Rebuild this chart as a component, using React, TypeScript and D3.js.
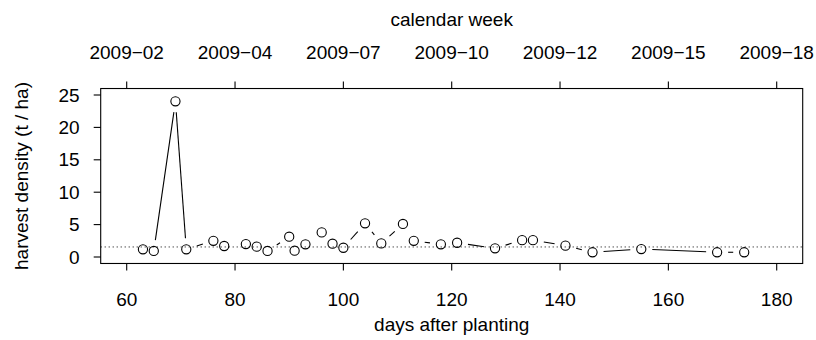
import React from "react";
import * as d3 from "d3";

const days = [63, 65, 69, 71, 76, 78, 82, 84, 86, 90, 91, 93, 96, 98, 100, 104, 107, 111, 113, 118, 121, 128, 133, 135, 141, 146, 155, 169, 174];
const density = [1.19, 0.93, 24.03, 1.19, 2.5, 1.7, 2.0, 1.6, 0.93, 3.13, 0.97, 1.96, 3.8, 2.05, 1.43, 5.2, 2.1, 5.1, 2.5, 1.96, 2.2, 1.34, 2.6, 2.6, 1.75, 0.73, 1.23, 0.73, 0.73];
const refLevel = 1.55;
const xTicks = [60, 80, 100, 120, 140, 160, 180];
const weekLabels = ["2009\u221202", "2009\u221204", "2009\u221207", "2009\u221210", "2009\u221212", "2009\u221215", "2009\u221218"];
const yTicks = [0, 5, 10, 15, 20, 25];

const W = 816, H = 340;
const FONT = "'Liberation Sans', Arial, Helvetica, sans-serif";
const FS = 19;

export default function App() {
  const x = d3.scaleLinear().domain([60, 180]).range([126.7, 776.7]);
  const L = x(55.2), R = x(184.8);
  const y = d3.scaleLinear().domain([0, 25]).range([257, 95]);
  const B = y(-1), T = y(26);
  const pts = days.map((d, i) => [x(d), y(density[i])] as [number, number]);
  const gap = 11;
  const segs: [number, number, number, number][] = [];
  for (let i = 0; i < pts.length - 1; i++) {
    const [x0, y0] = pts[i];
    const [x1, y1] = pts[i + 1];
    const dx = x1 - x0, dy = y1 - y0;
    const dist = Math.hypot(dx, dy);
    if (dist > 2 * gap) {
      const ux = dx / dist, uy = dy / dist;
      segs.push([x0 + ux * gap, y0 + uy * gap, x1 - ux * gap, y1 - uy * gap]);
    }
  }
  return (
    <svg width={W} height={H} style={{ position: "absolute", left: 0, top: 0, background: "#fff" }} fontFamily={FONT} fontSize={FS}>
      <rect x={0} y={0} width={W} height={H} fill="#fff" />
      <line x1={L} x2={R} y1={y(refLevel)} y2={y(refLevel)} stroke="#000" strokeWidth={1} strokeDasharray="1,3" />
      {segs.map((s, i) => (
        <line key={"s" + i} x1={s[0]} y1={s[1]} x2={s[2]} y2={s[3]} stroke="#000" strokeWidth={1.1} />
      ))}
      {pts.map((p, i) => (
        <circle key={"p" + i} cx={p[0]} cy={p[1]} r={4.6} fill="none" stroke="#000" strokeWidth={1.1} />
      ))}
      <rect x={L} y={T} width={R - L} height={B - T} fill="none" stroke="#000" strokeWidth={1.1} />
      {xTicks.map((t, i) => (
        <g key={"xt" + i}>
          <line x1={x(t)} x2={x(t)} y1={B} y2={B + 7} stroke="#000" strokeWidth={1.1} />
          <text x={x(t)} y={B + 43} textAnchor="middle">{t}</text>
          <line x1={x(t)} x2={x(t)} y1={T} y2={T - 7} stroke="#000" strokeWidth={1.1} />
          <text x={x(t)} y={T - 30} textAnchor="middle">{weekLabels[i]}</text>
        </g>
      ))}
      {yTicks.map((t, i) => (
        <g key={"yt" + i}>
          <line x1={L} x2={L - 7} y1={y(t)} y2={y(t)} stroke="#000" strokeWidth={1.1} />
          <text x={L - 21} y={y(t)} dy="0.35em" textAnchor="end">{t}</text>
        </g>
      ))}
      <text x={(L + R) / 2} y={B + 68} textAnchor="middle">days after planting</text>
      <text x={(L + R) / 2} y={T - 63} textAnchor="middle">calendar week</text>
      <text transform={`translate(28,${(T + B) / 2}) rotate(-90)`} textAnchor="middle">harvest density (t / ha)</text>
    </svg>
  );
}
